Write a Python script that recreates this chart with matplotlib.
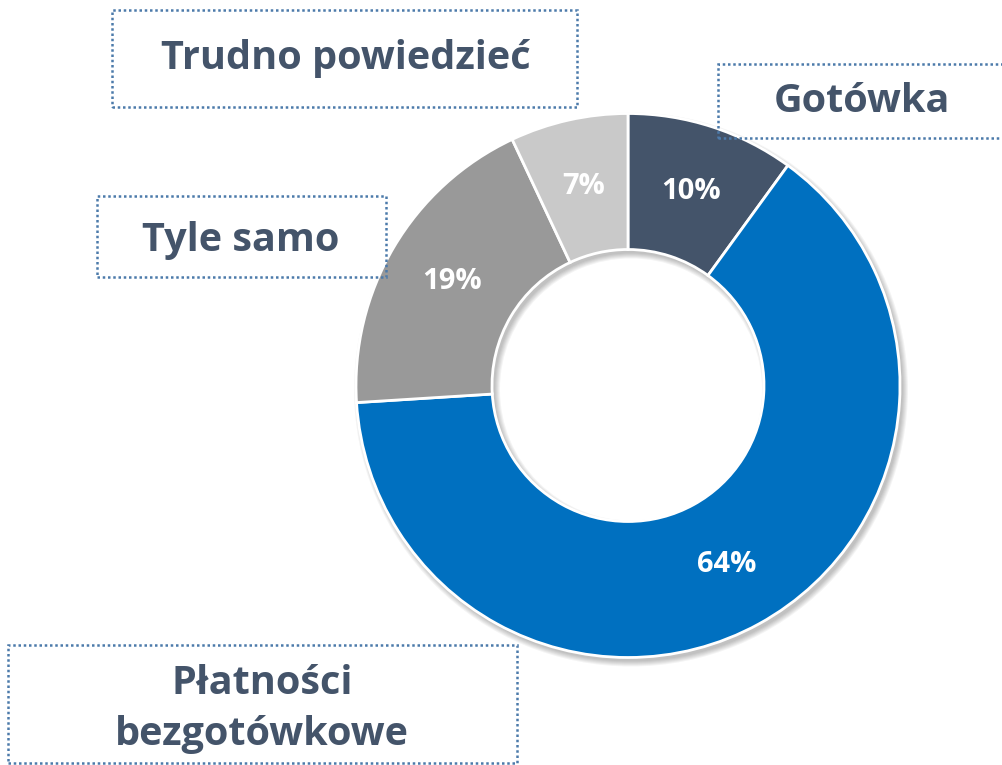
import matplotlib
matplotlib.use('Agg')
from matplotlib import pyplot as plt
from matplotlib.patches import Rectangle, Wedge

# data
labels = ['Gotówka', 'Płatności\nbezgotówkowe', 'Tyle samo', 'Trudno powiedzieć']
values = [10, 64, 19, 7]
colors = ['#44546A', '#0070C0', '#999999', '#C9C9C9']

W, H = 1002, 765
txt_color = '#44546A'
box_color = '#4C7AAA'

def Y(y):
    # pixel row from top -> data y
    return H - y

fig = plt.figure(figsize=(W / 100, H / 100), dpi=100)
ax = fig.add_axes([0, 0, 1, 1])

cx, cy = 628, Y(385.5)
r_out, ring = 272, 136

# soft shadow under the ring
for k in range(6):
    sh = Wedge((cx + 3, cy - 4), r_out + k, 0, 360, width=ring + 2 * k,
               facecolor='black', edgecolor='none', alpha=0.045, zorder=1)
    ax.add_patch(sh)

wedges, texts, autotexts = ax.pie(
    values, colors=colors, startangle=90, counterclock=False,
    center=(cx, cy), radius=r_out,
    wedgeprops=dict(width=ring, edgecolor='white', linewidth=2),
    autopct=lambda p: f'{p:.0f}%', pctdistance=0.75,
    textprops=dict(color='white', fontsize=21, fontweight='bold', family='Open Sans'))
for w in wedges:
    w.set_zorder(2)
for t in autotexts:
    t.set_zorder(3)

# label boxes: (x0, y0, x1, y1) in pixels from top-left, text centre
boxes = [
    (718, 64, 1012, 138, 862, 101),
    (8, 645, 517, 763, 262, 709),
    (97, 196, 386, 277, 241, 240),
    (112, 10, 577, 107, 346, 58),
]

for lab, (x0, y0, x1, y1, tx, ty) in zip(labels, boxes):
    rect = Rectangle((x0, Y(y1)), x1 - x0, y1 - y0, fill=False,
                     edgecolor=box_color, linewidth=1.8, linestyle=(0, (1, 1.1)),
                     zorder=4, clip_on=False)
    ax.add_patch(rect)
    ax.text(tx, Y(ty), lab, ha='center', va='center', color=txt_color,
            fontsize=28.5, fontweight='bold', family='Open Sans',
            linespacing=1.38, zorder=5)

ax.set_xlim(0, W)
ax.set_ylim(0, H)
ax.set_aspect('equal')
ax.axis('off')

fig.savefig('out.png', dpi=100)
